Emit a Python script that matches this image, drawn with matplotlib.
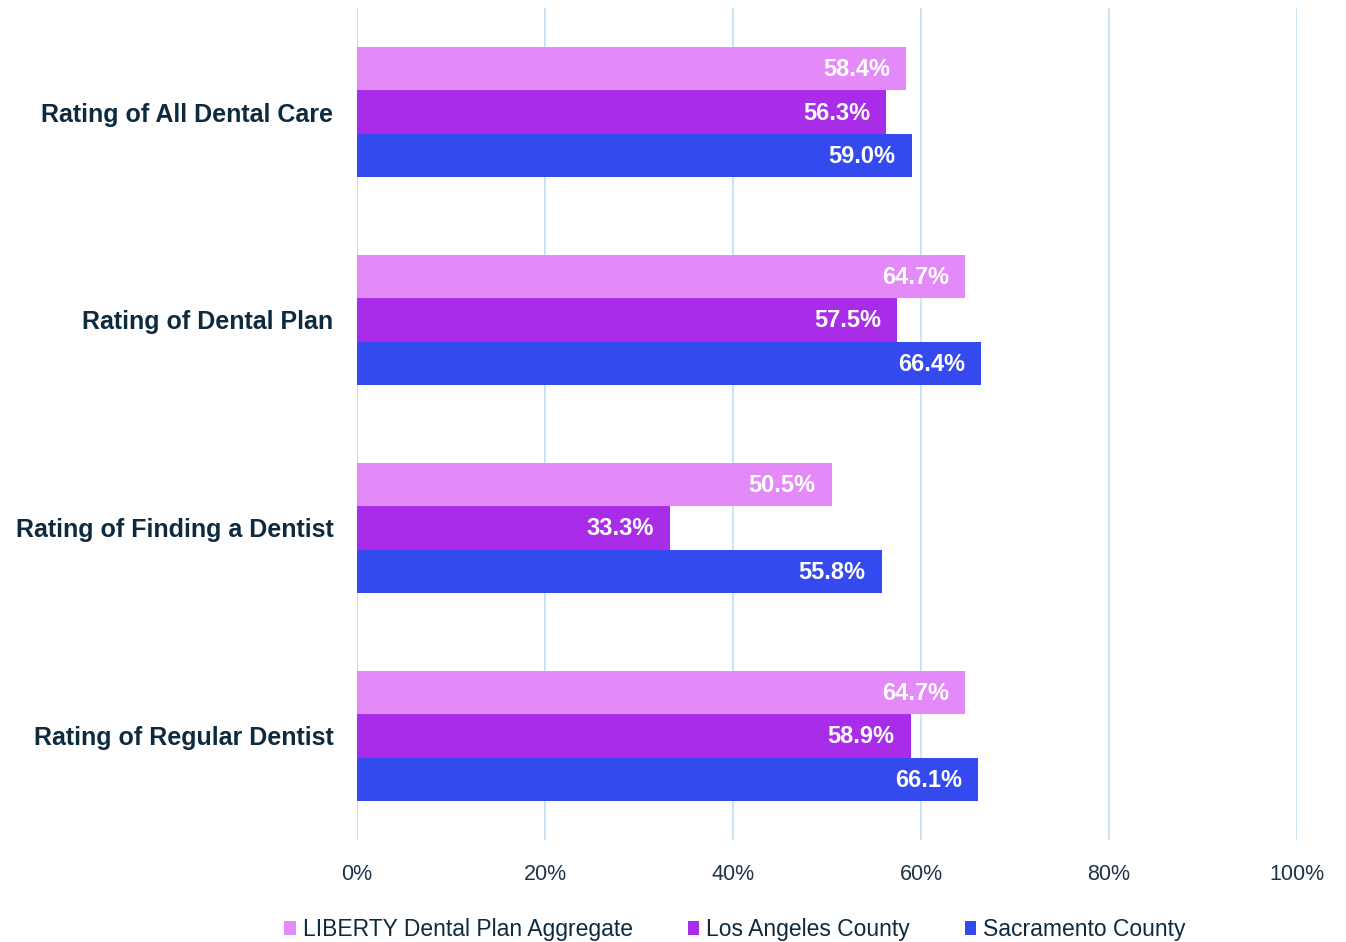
import matplotlib
matplotlib.use("Agg")
import matplotlib.pyplot as plt
from matplotlib.patches import Patch
import numpy as np

categories = ["Rating of All Dental Care", "Rating of Dental Plan",
              "Rating of Finding a Dentist", "Rating of Regular Dentist"]
series_names = ["LIBERTY Dental Plan Aggregate", "Los Angeles County", "Sacramento County"]
liberty = [58.4, 64.7, 50.5, 64.7]
los_angeles = [56.3, 57.5, 33.3, 58.9]
sacramento = [59.0, 66.4, 55.8, 66.1]
xticks = [0, 20, 40, 60, 80, 100]

colors = ["#E48AF8", "#A92DE8", "#344AEE"]
series = [liberty, los_angeles, sacramento]

plt.rcParams['font.family'] = ['Liberation Sans', 'DejaVu Sans']

fig = plt.figure(figsize=(13.46, 9.42), dpi=100)
ax = fig.add_axes([0.2652, 0.1083, 0.6984, 0.8832])

h = 0.208
y = np.arange(len(categories))
for i, (vals, c) in enumerate(zip(series, colors)):
    pos = y + (i - 1) * h
    bars = ax.barh(pos, vals, height=h, color=c, zorder=3)
    for b, v in zip(bars, vals):
        ax.annotate(f"{v:.1f}%", xy=(v, b.get_y() + b.get_height() / 2),
                    xytext=(-16, -1), textcoords="offset pixels",
                    ha="right", va="center", color="white", fontsize=17,
                    fontweight="bold", zorder=4)

ax.set_xlim(0, 100)
ax.set_ylim(3.5, -0.5)
ax.set_xticks(xticks)
ax.set_xticklabels([f"{t}%" for t in xticks], fontsize=15.5, color="#1F3347")
ax.set_yticks(y)
ax.set_yticklabels(categories, fontsize=18, fontweight="bold", color="#0D2A3F")
ax.tick_params(axis="x", length=0, pad=17)
ax.tick_params(axis="y", length=0, pad=17)
ax.grid(axis="x", color="#BFE3F7", linewidth=1.3, zorder=0)
for s in ax.spines.values():
    s.set_visible(False)

handles = [Patch(facecolor=c, label=n) for c, n in zip(colors, series_names)]
fig.legend(handles=handles, loc="lower center", bbox_to_anchor=(0.546, -0.021), ncol=3,
           frameon=False, fontsize=16.5, handlelength=0.5, handleheight=0.5,
           handletextpad=0.3, columnspacing=2.4, labelcolor="#0D2A3F")

fig.savefig("out.png", dpi=100)
